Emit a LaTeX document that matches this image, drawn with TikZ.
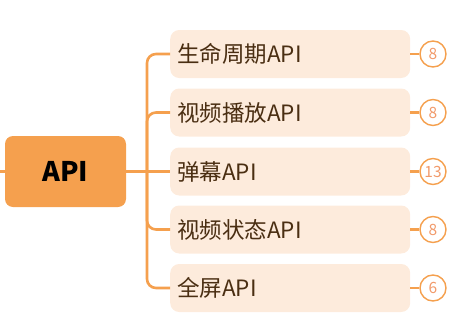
\documentclass[tikz,border=0pt]{standalone}
\usepackage{fontspec}
\setmainfont{Noto Sans CJK SC}
\newfontfamily\cjk{Noto Sans CJK SC}
\definecolor{orng}{HTML}{F5A04E}
\definecolor{boxfill}{HTML}{FDEBDC}
\definecolor{txtbrown}{HTML}{4A2E12}
\definecolor{numcol}{HTML}{F29A6A}
\tikzset{
  rootbox/.style={rounded corners=8pt, fill=orng, minimum width=121pt, minimum height=71pt, inner sep=0pt, font=\fontsize{27}{30}\selectfont\bfseries, text=black},
  childbox/.style={rounded corners=9pt, fill=boxfill, minimum width=240pt, minimum height=48pt, text width=226pt, align=left, inner xsep=7pt, inner ysep=0pt, anchor=west, font=\fontsize{22.5}{25}\selectfont, text=txtbrown},
  countnode/.style={circle, draw=orng, line width=1.4pt, fill=white, minimum size=26pt, inner sep=0pt, font=\fontsize{15.5}{17}\selectfont, text=numcol},
  link/.style={draw=orng, line width=2.6pt},
}
\begin{document}
\begin{tikzpicture}[x=1pt,y=-1pt]
\useasboundingbox (0,0) rectangle (467,330);
\node[rootbox] (root) at (65.5,171.5) {API};
\coordinate (lefte) at (0,171.5);
\coordinate (trunk) at (147,171.5);
\draw[link] (lefte) -- (root.west);
\draw[link] (root.east) -- (trunk);
\foreach \i/\y/\t/\n in {1/54/生命周期API/8, 2/112.5/视频播放API/8, 3/171.5/弹幕API/13, 4/229.5/视频状态API/8, 5/288/全屏API/6}{
  \node[childbox] (c\i) at (170,\y) {\t};
  \node[countnode] (n\i) at (433,\y) {\n};
  \draw[link] (c\i.east) -- (n\i.west);
}
\foreach \i in {1,2,4,5}{
  \draw[link, rounded corners=9pt] (trunk) |- (c\i.west);
}
\draw[link] (trunk) -- (c3.west);
\end{tikzpicture}
\end{document}
